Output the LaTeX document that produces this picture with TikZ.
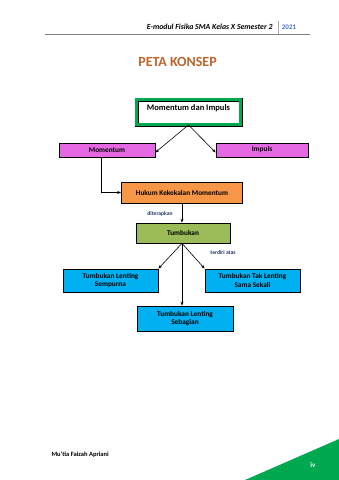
\documentclass[tikz,border=0pt]{standalone}
\usepackage{fontspec}
\setmainfont{Carlito}
\usetikzlibrary{arrows.meta}
\definecolor{judul}{HTML}{B9652B}
\definecolor{hijau}{HTML}{00A84F}
\definecolor{ungu}{HTML}{E468E2}
\definecolor{oranye}{HTML}{F79646}
\definecolor{daun}{HTML}{9BBB59}
\definecolor{biru}{HTML}{00B0F0}
\definecolor{tahun}{HTML}{4472C4}
\definecolor{catatan}{HTML}{1F3864}

\tikzset{
  kotak/.style={draw=black,line width=0.7pt,font=\fontsize{7.3}{8.3}\selectfont\bfseries,align=center,inner sep=1pt},
  panah/.style={line width=0.6pt,-{Stealth[length=4pt,width=3pt]}},
  ket/.style={font=\fontsize{5.6}{6.5}\selectfont\bfseries,catatan}
}

\begin{document}
\begin{tikzpicture}[x=1pt,y=-1pt]
  \useasboundingbox (0,0) rectangle (339,480);
  % Header
  \draw[gray,line width=0.8pt] (45,34) -- (310,34);
  \draw[gray!70,line width=0.5pt] (278,21) -- (278,34);
  \node[font=\fontsize{7.8}{9}\selectfont\bfseries\itshape,anchor=east] (hdr) at (276,27) {E-modul Fisika SMA Kelas X Semester 2};
  \node[font=\fontsize{7}{8}\selectfont\bfseries,tahun] (thn) at (289,27) {2021};

  % Title
  \node[font=\fontsize{14}{16}\selectfont\bfseries,judul] (judul) at (177.5,62) {PETA KONSEP};

  % Concept boxes
  \node[kotak,draw=black,line width=0.8pt,double=hijau,double distance=2.4pt,fill=white,minimum width=104pt,minimum height=25pt,text height=6.5pt,text depth=10pt,font=\fontsize{8.5}{9.5}\selectfont\bfseries] (mdi) at (188.5,112) {Momentum dan Impuls};
  \node[kotak,fill=ungu,minimum width=96pt,minimum height=14pt] (mom) at (107,150) {Momentum};
  \node[kotak,fill=ungu,minimum width=92pt,minimum height=14pt] (imp) at (262,150) {Impuls};
  \node[kotak,fill=oranye,minimum width=121pt,minimum height=21pt] (hkm) at (182,192.5) {Hukum Kekekalan Momentum};
  \node[kotak,fill=daun,minimum width=94pt,minimum height=20pt] (tmb) at (183,233) {Tumbukan};
  \node[kotak,fill=biru,minimum width=95pt,minimum height=23pt] (tls) at (110.5,280.5) {Tumbukan Lenting\\Sempurna};
  \node[kotak,fill=biru,minimum width=95pt,minimum height=23pt] (ttl) at (252.5,280.5) {Tumbukan Tak Lenting\\Sama Sekali};
  \node[kotak,fill=biru,minimum width=96pt,minimum height=25pt] (tlb) at (185,318.5) {Tumbukan Lenting\\Sebagian};

  % Connectors
  \draw[panah] (mdi.south) -- ([yshift=-2.5pt]mom.east);
  \draw[panah] (mdi.south) -- ([yshift=-2.5pt]imp.west);
  \draw[panah] ([xshift=-6pt]mom.south) |- (hkm.west);
  \draw[panah] (hkm.south) -- (hkm.south |- tmb.north);
  \draw[panah] ([xshift=-1pt]tmb.south) -- (tls.north east);
  \draw[panah] ([xshift=-1pt]tmb.south) -- (ttl.north west);
  \draw[panah] ([xshift=-1pt]tmb.south) -- ([xshift=-1pt]tmb.south |- tlb.north);

  % Link words
  \node[ket] (dtr) at (160,214) {diterapkan};
  \node[ket] (tda) at (223,253) {terdiri atas};

  % Footer
  \fill[hijau] (245,480) -- (339,439) -- (339,480) -- cycle;
  \node[font=\fontsize{7}{8}\selectfont\bfseries,white] (hal) at (313,465) {iv};
  \node[font=\fontsize{6.5}{8}\selectfont\bfseries,anchor=west] (pns) at (48,455) {Mu'tia Faizah Apriani};
\end{tikzpicture}
\end{document}
